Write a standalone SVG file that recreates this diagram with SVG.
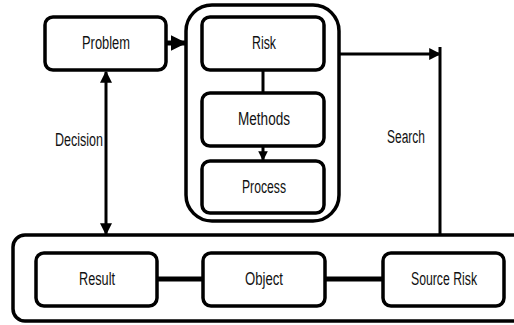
<svg xmlns="http://www.w3.org/2000/svg" width="514" height="325" viewBox="0 0 514 325">
<defs>
<style>
.box{fill:#fff;stroke:#000;stroke-width:3.5}
.cont{fill:none;stroke:#000;stroke-width:3.5}
.lbl{font-family:"Liberation Sans",Arial,sans-serif;font-size:18px;fill:#111;text-anchor:middle}
.ln{fill:none;stroke:#000;stroke-width:3}
.thick{fill:none;stroke:#000;stroke-width:5}
</style>
<marker id="ah" viewBox="0 0 10 10" refX="9" refY="5" markerWidth="4" markerHeight="4" orient="auto-start-reverse" markerUnits="strokeWidth"><path d="M0,0 L10,5 L0,10 z" fill="#000"/></marker>
<marker id="ahs" viewBox="0 0 10 10" refX="9" refY="5" markerWidth="3.2" markerHeight="3.2" orient="auto-start-reverse" markerUnits="strokeWidth"><path d="M0,0 L10,5 L0,10 z" fill="#000"/></marker>
</defs>
<g id="container-main"><rect class="cont" x="186" y="5" width="153" height="216" rx="26"/></g>
<g id="container-bottom"><rect class="cont" x="13" y="235" width="520" height="86" rx="12"/></g>
<g id="connectors">
<line class="thick" x1="167" y1="43" x2="185" y2="43" marker-end="url(#ahs)"/>
<line class="ln" x1="263" y1="70" x2="263" y2="93"/>
<line class="ln" x1="263" y1="146" x2="263" y2="160" marker-end="url(#ahs)"/>
<line class="ln" x1="106" y1="72" x2="106" y2="234" marker-start="url(#ah)" marker-end="url(#ah)"/>
<line class="ln" x1="339" y1="54" x2="440" y2="54" marker-end="url(#ah)"/>
<line class="ln" x1="440" y1="47" x2="440" y2="235"/>
<line class="thick" x1="157" y1="279" x2="203" y2="279"/>
<line class="thick" x1="325" y1="279" x2="383" y2="279"/>
</g>
<g id="problem"><rect class="box" x="45" y="17" width="121" height="53" rx="8"/><text class="lbl" x="106" y="49" textLength="48" lengthAdjust="spacingAndGlyphs">Problem</text></g>
<g id="risk"><rect class="box" x="202" y="17" width="122" height="53" rx="8"/><text class="lbl" x="264" y="49" textLength="24" lengthAdjust="spacingAndGlyphs">Risk</text></g>
<g id="methods"><rect class="box" x="202" y="93" width="122" height="53" rx="8"/><text class="lbl" x="264" y="125" textLength="52" lengthAdjust="spacingAndGlyphs">Methods</text></g>
<g id="process"><rect class="box" x="202" y="161" width="122" height="52" rx="8"/><text class="lbl" x="264" y="193" textLength="44" lengthAdjust="spacingAndGlyphs">Process</text></g>
<g id="result"><rect class="box" x="36" y="253" width="121" height="53" rx="8"/><text class="lbl" x="97" y="285" textLength="36" lengthAdjust="spacingAndGlyphs">Result</text></g>
<g id="object"><rect class="box" x="203" y="253" width="122" height="53" rx="8"/><text class="lbl" x="264" y="285" textLength="38" lengthAdjust="spacingAndGlyphs">Object</text></g>
<g id="source-risk"><rect class="box" x="383" y="253" width="121" height="53" rx="8"/><text class="lbl" x="444" y="285" textLength="66" lengthAdjust="spacingAndGlyphs">Source Risk</text></g>
<g id="labels">
<text class="lbl" x="79" y="146" textLength="48" lengthAdjust="spacingAndGlyphs">Decision</text>
<text class="lbl" x="406" y="143" textLength="38" lengthAdjust="spacingAndGlyphs">Search</text>
</g>
</svg>
